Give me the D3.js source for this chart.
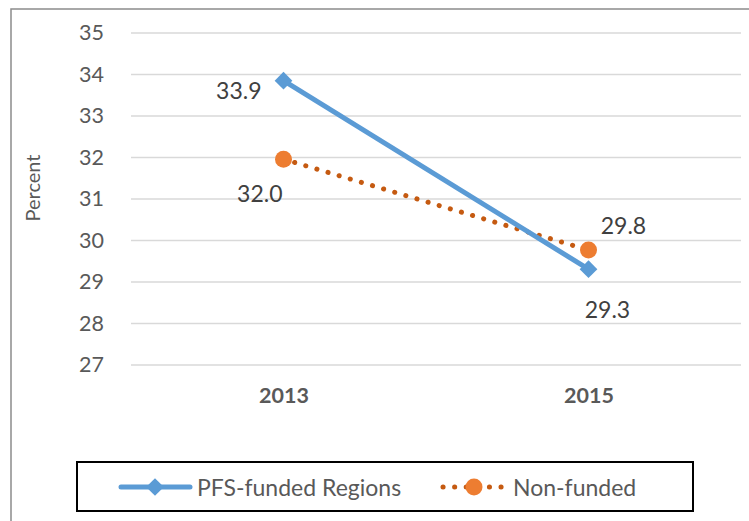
<!DOCTYPE html>
<html>
<head>
<meta charset="utf-8">
<script src="https://cdn.jsdelivr.net/npm/d3@7"></script>
<style>
  body { margin: 0; background: #fff; }
  text { font-family: Lato, "Open Sans", sans-serif; }
</style>
</head>
<body>
<div id="chart"></div>
<script>
const WIDTH = 749, HEIGHT = 521;
const PLOT = { left: 131, right: 741, top: 33, bottom: 365 };

const years = ["2013", "2015"];
const pfsValues = [33.85, 29.31];
const nonValues = [31.96, 29.77];
const pfsLabels = ["33.9", "29.3"];
const nonLabels = ["32.0", "29.8"];
const yTicks = [27, 28, 29, 30, 31, 32, 33, 34, 35];

const BLUE = "#5B9BD5", ORANGE = "#ED7D31", DOT = "#C55A11";

const svg = d3.select("#chart").append("svg")
    .attr("width", WIDTH).attr("height", HEIGHT);

// outer chart frame (runs off right / bottom edge)
svg.append("rect")
    .attr("x", 11).attr("y", 9)
    .attr("width", 760).attr("height", 540)
    .attr("fill", "none").attr("stroke", "#8c8c8c").attr("stroke-width", 1.5);

const x = d3.scalePoint().domain(years).range([PLOT.left, PLOT.right]).padding(0.5);
const y = d3.scaleLinear().domain([27, 35]).range([PLOT.bottom, PLOT.top]);

// gridlines
svg.append("g").selectAll("line").data(yTicks).join("line")
    .attr("x1", PLOT.left).attr("x2", PLOT.right)
    .attr("y1", d => y(d)).attr("y2", d => y(d))
    .attr("stroke", "#d9d9d9").attr("stroke-width", 1.5);

// y axis labels
const yAxis = svg.append("g")
    .attr("transform", `translate(${PLOT.left - 27},0)`)
    .call(d3.axisLeft(y).tickValues(yTicks).tickSize(0).tickPadding(0));
yAxis.select(".domain").remove();
yAxis.selectAll("text")
    .attr("font-size", 21.5).attr("fill", "#595959")
    .style("font-family", "Lato, 'Open Sans', sans-serif");

// x axis labels
const xAxis = svg.append("g")
    .attr("transform", `translate(0,${PLOT.bottom})`)
    .call(d3.axisBottom(x).tickSize(0).tickPadding(23));
xAxis.select(".domain").remove();
xAxis.selectAll("text")
    .attr("font-size", 21.5).attr("font-weight", "bold").attr("fill", "#595959")
    .style("font-family", "Lato, 'Open Sans', sans-serif");

svg.append("text")
    .attr("transform", "translate(40,188) rotate(-90)")
    .attr("text-anchor", "middle")
    .attr("font-size", 20).attr("fill", "#595959")
    .text("Percent");

const line = d3.line().x((d, i) => x(years[i])).y(d => y(d));

// Non-funded series (dotted)
svg.append("path").datum(nonValues)
    .attr("d", line).attr("fill", "none")
    .attr("stroke", DOT).attr("stroke-width", 5)
    .attr("stroke-linecap", "round").attr("stroke-dasharray", "0.1 11.5");

// PFS series
svg.append("path").datum(pfsValues)
    .attr("d", line).attr("fill", "none")
    .attr("stroke", BLUE).attr("stroke-width", 5);

const diamond = d3.symbol().type(d3.symbolDiamond2).size(200);

svg.append("g").selectAll("path").data(pfsValues).join("path")
    .attr("transform", (d, i) => `translate(${x(years[i])},${y(d)})`)
    .attr("d", diamond).attr("fill", BLUE);

svg.append("g").selectAll("circle").data(nonValues).join("circle")
    .attr("cx", (d, i) => x(years[i])).attr("cy", d => y(d))
    .attr("r", 8.5).attr("fill", ORANGE);

// data labels
const labelStyle = sel => sel.attr("font-size", 23).attr("fill", "#404040")
    .attr("dominant-baseline", "central");

labelStyle(svg.append("text")
    .attr("x", x(years[0]) - 22).attr("y", y(pfsValues[0]) + 9)
    .attr("text-anchor", "end").text(pfsLabels[0]));
labelStyle(svg.append("text")
    .attr("x", x(years[1]) + 19).attr("y", y(pfsValues[1]) + 40)
    .attr("text-anchor", "middle").text(pfsLabels[1]));
labelStyle(svg.append("text")
    .attr("x", x(years[0]) - 1).attr("y", y(nonValues[0]) + 34)
    .attr("text-anchor", "end").text(nonLabels[0]));
labelStyle(svg.append("text")
    .attr("x", x(years[1]) + 35).attr("y", y(nonValues[1]) - 25)
    .attr("text-anchor", "middle").text(nonLabels[1]));

// legend
const legend = svg.append("g");
legend.append("rect")
    .attr("x", 77).attr("y", 462).attr("width", 616).attr("height", 49)
    .attr("fill", "#fff").attr("stroke", "#000").attr("stroke-width", 2);

const ly = 487;
legend.append("line")
    .attr("x1", 121).attr("x2", 190).attr("y1", ly).attr("y2", ly)
    .attr("stroke", BLUE).attr("stroke-width", 5).attr("stroke-linecap", "round");
legend.append("path")
    .attr("transform", `translate(155,${ly})`)
    .attr("d", diamond).attr("fill", BLUE);
legend.append("text")
    .attr("x", 197).attr("y", ly).attr("dominant-baseline", "central")
    .attr("font-size", 23).attr("fill", "#595959").text("PFS-funded Regions");

legend.append("line")
    .attr("x1", 443).attr("x2", 502).attr("y1", ly).attr("y2", ly)
    .attr("stroke", DOT).attr("stroke-width", 5)
    .attr("stroke-linecap", "round").attr("stroke-dasharray", "0.1 11.5");
legend.append("circle")
    .attr("cx", 474).attr("cy", ly).attr("r", 8.5).attr("fill", ORANGE);
legend.append("text")
    .attr("x", 513).attr("y", ly).attr("dominant-baseline", "central")
    .attr("font-size", 23).attr("fill", "#595959").text("Non-funded");
</script>
</body>
</html>
